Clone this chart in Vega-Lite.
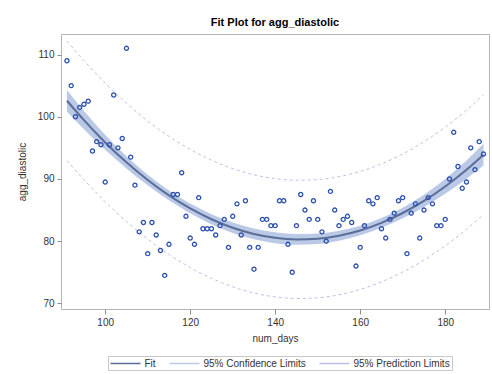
{
  "$schema": "https://vega.github.io/schema/vega-lite/v6.json",
  "width": 428,
  "height": 275,
  "autosize": {"type": "none"},
  "padding": {"left": 61, "top": 34, "right": 3, "bottom": 65},
  "background": "white",
  "title": {
    "text": "Fit Plot for agg_diastolic",
    "anchor": "middle",
    "frame": "group",
    "font": "Liberation Sans",
    "fontSize": 11,
    "fontWeight": "bold",
    "color": "#000000",
    "offset": 6
  },
  "datasets": {
    "obs": [
      {"num_days": 91, "agg_diastolic": 109}, {"num_days": 92, "agg_diastolic": 105}, {"num_days": 93, "agg_diastolic": 100},
      {"num_days": 94, "agg_diastolic": 101.5}, {"num_days": 95, "agg_diastolic": 102}, {"num_days": 96, "agg_diastolic": 102.5},
      {"num_days": 97, "agg_diastolic": 94.5}, {"num_days": 98, "agg_diastolic": 96}, {"num_days": 99, "agg_diastolic": 95.5},
      {"num_days": 100, "agg_diastolic": 89.5}, {"num_days": 101, "agg_diastolic": 95.5}, {"num_days": 102, "agg_diastolic": 103.5},
      {"num_days": 103, "agg_diastolic": 95}, {"num_days": 104, "agg_diastolic": 96.5}, {"num_days": 105, "agg_diastolic": 111},
      {"num_days": 106, "agg_diastolic": 93.5}, {"num_days": 107, "agg_diastolic": 89}, {"num_days": 108, "agg_diastolic": 81.5},
      {"num_days": 109, "agg_diastolic": 83}, {"num_days": 110, "agg_diastolic": 78}, {"num_days": 111, "agg_diastolic": 83},
      {"num_days": 112, "agg_diastolic": 81}, {"num_days": 113, "agg_diastolic": 78.5}, {"num_days": 114, "agg_diastolic": 74.5},
      {"num_days": 115, "agg_diastolic": 79.5}, {"num_days": 116, "agg_diastolic": 87.5}, {"num_days": 117, "agg_diastolic": 87.5},
      {"num_days": 118, "agg_diastolic": 91}, {"num_days": 119, "agg_diastolic": 84}, {"num_days": 120, "agg_diastolic": 80.5},
      {"num_days": 121, "agg_diastolic": 79.5}, {"num_days": 122, "agg_diastolic": 87}, {"num_days": 123, "agg_diastolic": 82},
      {"num_days": 124, "agg_diastolic": 82}, {"num_days": 125, "agg_diastolic": 82}, {"num_days": 126, "agg_diastolic": 81},
      {"num_days": 127, "agg_diastolic": 82.5}, {"num_days": 128, "agg_diastolic": 83.5}, {"num_days": 129, "agg_diastolic": 79},
      {"num_days": 130, "agg_diastolic": 84}, {"num_days": 131, "agg_diastolic": 86}, {"num_days": 132, "agg_diastolic": 81},
      {"num_days": 133, "agg_diastolic": 86.5}, {"num_days": 134, "agg_diastolic": 79}, {"num_days": 135, "agg_diastolic": 75.5},
      {"num_days": 136, "agg_diastolic": 79}, {"num_days": 137, "agg_diastolic": 83.5}, {"num_days": 138, "agg_diastolic": 83.5},
      {"num_days": 139, "agg_diastolic": 82.5}, {"num_days": 140, "agg_diastolic": 82.5}, {"num_days": 141, "agg_diastolic": 86.5},
      {"num_days": 142, "agg_diastolic": 86.5}, {"num_days": 143, "agg_diastolic": 79.5}, {"num_days": 144, "agg_diastolic": 75},
      {"num_days": 145, "agg_diastolic": 82.5}, {"num_days": 146, "agg_diastolic": 87.5}, {"num_days": 147, "agg_diastolic": 85},
      {"num_days": 148, "agg_diastolic": 83.5}, {"num_days": 149, "agg_diastolic": 86.5}, {"num_days": 150, "agg_diastolic": 83.5},
      {"num_days": 151, "agg_diastolic": 81.5}, {"num_days": 152, "agg_diastolic": 80}, {"num_days": 153, "agg_diastolic": 88},
      {"num_days": 154, "agg_diastolic": 85}, {"num_days": 155, "agg_diastolic": 82.5}, {"num_days": 156, "agg_diastolic": 83.5},
      {"num_days": 157, "agg_diastolic": 84}, {"num_days": 158, "agg_diastolic": 83}, {"num_days": 159, "agg_diastolic": 76},
      {"num_days": 160, "agg_diastolic": 79}, {"num_days": 161, "agg_diastolic": 82.5}, {"num_days": 162, "agg_diastolic": 86.5},
      {"num_days": 163, "agg_diastolic": 86}, {"num_days": 164, "agg_diastolic": 87}, {"num_days": 165, "agg_diastolic": 82},
      {"num_days": 166, "agg_diastolic": 80.5}, {"num_days": 167, "agg_diastolic": 83.5}, {"num_days": 168, "agg_diastolic": 84.5},
      {"num_days": 169, "agg_diastolic": 86.5}, {"num_days": 170, "agg_diastolic": 87}, {"num_days": 171, "agg_diastolic": 78},
      {"num_days": 172, "agg_diastolic": 84.5}, {"num_days": 173, "agg_diastolic": 86}, {"num_days": 174, "agg_diastolic": 80.5},
      {"num_days": 175, "agg_diastolic": 85}, {"num_days": 176, "agg_diastolic": 87}, {"num_days": 177, "agg_diastolic": 86},
      {"num_days": 178, "agg_diastolic": 82.5}, {"num_days": 179, "agg_diastolic": 82.5}, {"num_days": 180, "agg_diastolic": 83.5},
      {"num_days": 181, "agg_diastolic": 90}, {"num_days": 182, "agg_diastolic": 97.5}, {"num_days": 183, "agg_diastolic": 92},
      {"num_days": 184, "agg_diastolic": 88.5}, {"num_days": 185, "agg_diastolic": 89.5}, {"num_days": 186, "agg_diastolic": 95},
      {"num_days": 187, "agg_diastolic": 91.5}, {"num_days": 188, "agg_diastolic": 96}, {"num_days": 189, "agg_diastolic": 94}
    ],
    "fit": [
      {"num_days": 91, "fit": 102.57, "lclm": 100.83, "uclm": 104.31, "lpl": 92.95, "upl": 112.19},
      {"num_days": 95, "fit": 99.45, "lclm": 97.98, "uclm": 100.92, "lpl": 89.88, "upl": 109.02},
      {"num_days": 100, "fit": 95.87, "lclm": 94.68, "uclm": 97.07, "lpl": 86.33, "upl": 105.41},
      {"num_days": 105, "fit": 92.67, "lclm": 91.69, "uclm": 93.65, "lpl": 83.16, "upl": 102.18},
      {"num_days": 110, "fit": 89.83, "lclm": 88.98, "uclm": 90.68, "lpl": 80.33, "upl": 99.33},
      {"num_days": 115, "fit": 87.36, "lclm": 86.57, "uclm": 88.15, "lpl": 77.87, "upl": 96.85},
      {"num_days": 120, "fit": 85.26, "lclm": 84.48, "uclm": 86.04, "lpl": 75.77, "upl": 94.75},
      {"num_days": 125, "fit": 83.53, "lclm": 82.73, "uclm": 84.34, "lpl": 74.03, "upl": 93.03},
      {"num_days": 130, "fit": 82.17, "lclm": 81.33, "uclm": 83.01, "lpl": 72.67, "upl": 91.67},
      {"num_days": 135, "fit": 81.17, "lclm": 80.31, "uclm": 82.03, "lpl": 71.67, "upl": 90.67},
      {"num_days": 140, "fit": 80.55, "lclm": 79.68, "uclm": 81.42, "lpl": 71.05, "upl": 90.05},
      {"num_days": 145, "fit": 80.29, "lclm": 79.43, "uclm": 81.15, "lpl": 70.79, "upl": 89.79},
      {"num_days": 150, "fit": 80.4, "lclm": 79.56, "uclm": 81.24, "lpl": 70.9, "upl": 89.9},
      {"num_days": 155, "fit": 80.88, "lclm": 80.08, "uclm": 81.69, "lpl": 71.38, "upl": 90.38},
      {"num_days": 160, "fit": 81.72, "lclm": 80.94, "uclm": 82.5, "lpl": 72.23, "upl": 91.21},
      {"num_days": 165, "fit": 82.94, "lclm": 82.15, "uclm": 83.73, "lpl": 73.45, "upl": 92.43},
      {"num_days": 170, "fit": 84.53, "lclm": 83.68, "uclm": 85.38, "lpl": 75.03, "upl": 94.03},
      {"num_days": 175, "fit": 86.48, "lclm": 85.5, "uclm": 87.46, "lpl": 76.97, "upl": 95.99},
      {"num_days": 180, "fit": 88.8, "lclm": 87.61, "uclm": 89.99, "lpl": 79.26, "upl": 98.34},
      {"num_days": 185, "fit": 91.49, "lclm": 90.02, "uclm": 92.96, "lpl": 81.92, "upl": 101.06},
      {"num_days": 189, "fit": 93.91, "lclm": 92.17, "uclm": 95.65, "lpl": 84.29, "upl": 103.53}
    ]
  },
  "encoding": {
    "x": {
      "field": "num_days", "type": "quantitative",
      "scale": {"domain": [89.6, 190.3], "nice": false, "zero": false},
      "axis": {"values": [100, 120, 140, 160, 180], "title": "num_days", "tickSize": 5, "titlePadding": 6}
    }
  },
  "layer": [
    {
      "data": {"name": "fit"},
      "mark": {"type": "area", "opacity": 1, "interpolate": "monotone"},
      "encoding": {
        "y": {"field": "lclm", "type": "quantitative", "scale": {"domain": [69.1, 113.3], "nice": false, "zero": false},
              "axis": {"values": [70, 80, 90, 100, 110], "title": "agg_diastolic", "tickSize": 4, "titlePadding": 10}},
        "y2": {"field": "uclm"},
        "color": {
          "datum": "95% Confidence Limits",
          "scale": {"domain": ["Fit", "95% Confidence Limits", "95% Prediction Limits"], "range": ["#5b6d98", "#b9c9e6", "#bcc0ea"]},
          "legend": {
            "orient": "none", "legendX": 47, "legendY": 322, "direction": "horizontal", "title": null,
            "symbolType": "M-1,0H5", "symbolSize": 100, "symbolStrokeWidth": 1.5,
            "labelFont": "Liberation Sans", "labelFontSize": 10, "labelColor": "#333333", "labelOffset": 23,
            "columnPadding": 10, "padding": 1.5, "strokeColor": "#c8c8c8", "fillColor": "white"
          }
        }
      }
    },
    {
      "data": {"name": "fit"},
      "mark": {"type": "line", "strokeWidth": 1, "strokeDash": [3, 3], "interpolate": "monotone"},
      "encoding": {"y": {"field": "upl", "type": "quantitative"}, "color": {"datum": "95% Prediction Limits"}}
    },
    {
      "data": {"name": "fit"},
      "mark": {"type": "line", "strokeWidth": 1, "strokeDash": [3, 3], "interpolate": "monotone"},
      "encoding": {"y": {"field": "lpl", "type": "quantitative"}, "color": {"datum": "95% Prediction Limits"}}
    },
    {
      "data": {"name": "fit"},
      "mark": {"type": "line", "strokeWidth": 2, "interpolate": "monotone"},
      "encoding": {"y": {"field": "fit", "type": "quantitative"}, "color": {"datum": "Fit"}}
    },
    {
      "data": {"name": "obs"},
      "mark": {"type": "point", "shape": "circle", "filled": false, "size": 17, "strokeWidth": 1.3, "color": "#2c4fae", "opacity": 1},
      "encoding": {"y": {"field": "agg_diastolic", "type": "quantitative"}}
    }
  ],
  "config": {
    "view": {"stroke": "#b4b4b4", "strokeWidth": 1},
    "axis": {
      "domain": false, "grid": false, "tickColor": "#8c8c8c", "labelPadding": 3,
      "labelFont": "Liberation Sans", "labelFontSize": 10, "labelColor": "#333333",
      "titleFont": "Liberation Sans", "titleFontSize": 10, "titleFontWeight": "normal", "titleColor": "#333333"
    }
  }
}
